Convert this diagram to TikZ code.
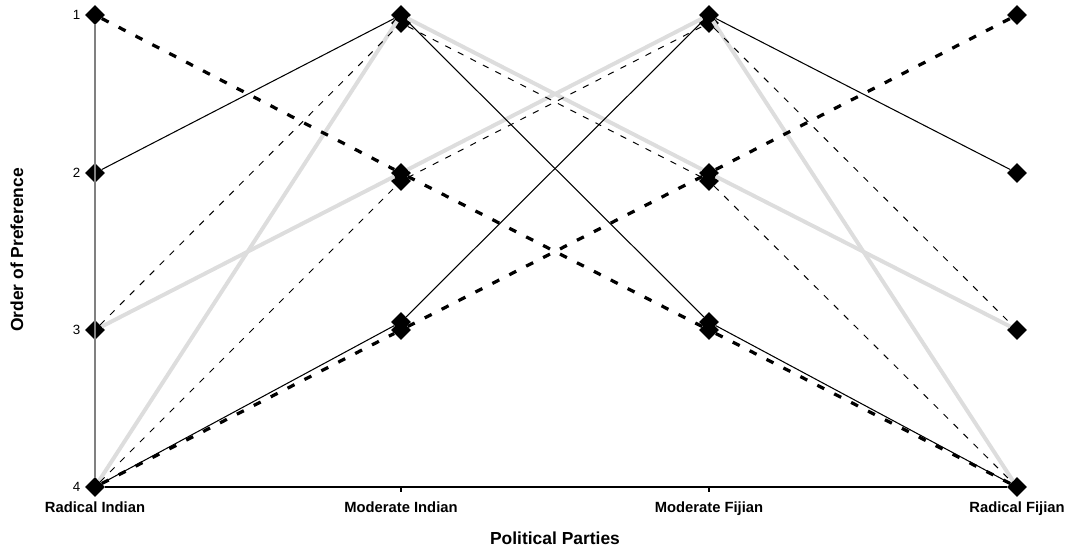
\documentclass[tikz,border=0pt]{standalone}
\usepackage{fontspec}
\setmainfont{Liberation Sans}
\usetikzlibrary{shapes.geometric,positioning}
\definecolor{lightline}{RGB}{221,221,221}
\definecolor{axisgray}{RGB}{128,128,128}
\tikzset{
  pt/.style={diamond, fill=black, inner sep=0pt, minimum width=0.5cm, minimum height=0.5cm},
  solidline/.style={black, line width=0.75pt},
  thindash/.style={black, line width=0.7pt, dash pattern=on 4.5pt off 5.5pt},
  thickdash/.style={black, line width=2.3pt, dash pattern=on 5.5pt off 8pt},
  grayline/.style={lightline, line width=2.8pt},
  rank/.style={font=\fontsize{9.5}{11}\selectfont, inner sep=1pt},
  party/.style={anchor=base, font=\fontsize{10.5}{12}\selectfont\bfseries},
  axtitle/.style={font=\fontsize{12.4}{14}\selectfont\bfseries}
}
\begin{document}
\begin{tikzpicture}[x=0.025cm, y=-0.025cm]
\useasboundingbox (0,0) rectangle (1074,554);

\node[pt] (ri1) at (95,15) {};
\node[pt] (ri2) at (95,173) {};
\node[pt] (ri3) at (95,330) {};
\node[pt] (ri4) at (95,487) {};

\node[pt] (mi1) at (401,15) {};
\node[pt] (mi1b) at (401,23) {};
\node[pt] (mi2) at (401,173) {};
\node[pt] (mi2b) at (401,181) {};
\node[pt] (mi3) at (401,330) {};
\node[pt] (mi3b) at (401,322) {};

\node[pt] (mf1) at (709,15) {};
\node[pt] (mf1b) at (709,23) {};
\node[pt] (mf2) at (709,173) {};
\node[pt] (mf2b) at (709,181) {};
\node[pt] (mf3) at (709,330) {};
\node[pt] (mf3b) at (709,322) {};

\node[pt] (rf1) at (1017,15) {};
\node[pt] (rf2) at (1017,173) {};
\node[pt] (rf3) at (1017,330) {};
\node[pt] (rf4) at (1017,487) {};

\coordinate (tmi) at (401,487);
\coordinate (tmf) at (709,487);

\draw[axisgray, line width=0.75pt] (ri1) -- (ri4);
\draw[black, line width=0.75pt] (ri4) -- (rf4);
\draw[black, line width=0.75pt] (tmi) -- ++(0,5);
\draw[black, line width=0.75pt] (tmf) -- ++(0,5);

\draw[grayline] (ri3) -- (mi2) -- (mf1) -- (rf4);
\draw[grayline] (ri4) -- (mi1) -- (mf2) -- (rf3);
\draw[solidline] (ri2) -- (mi1) -- (mf3b) -- (rf4);
\draw[solidline] (ri4) -- (mi3b) -- (mf1) -- (rf2);
\draw[thindash] (ri3) -- (mi1b) -- (mf2b) -- (rf4);
\draw[thindash] (ri4) -- (mi2b) -- (mf1b) -- (rf3);
\draw[thickdash] (ri1) -- (mi2) -- (mf3) -- (rf4);
\draw[thickdash] (ri4) -- (mi3) -- (mf2) -- (rf1);

\node[rank, left=2pt of ri1] (r1) {1};
\node[rank, left=2pt of ri2] (r2) {2};
\node[rank, left=2pt of ri3] (r3) {3};
\node[rank, left=2pt of ri4] (r4) {4};

\node[party] (pri) at (95,512) {Radical Indian};
\node[party] (pmi) at (401,512) {Moderate Indian};
\node[party] (pmf) at (709,512) {Moderate Fijian};
\node[party] (prf) at (1017,512) {Radical Fijian};

\node[axtitle] (xt) at (555,538) {Political Parties};
\node[axtitle, rotate=90] (yt) at (17,250) {Order of Preference};
\end{tikzpicture}
\end{document}
